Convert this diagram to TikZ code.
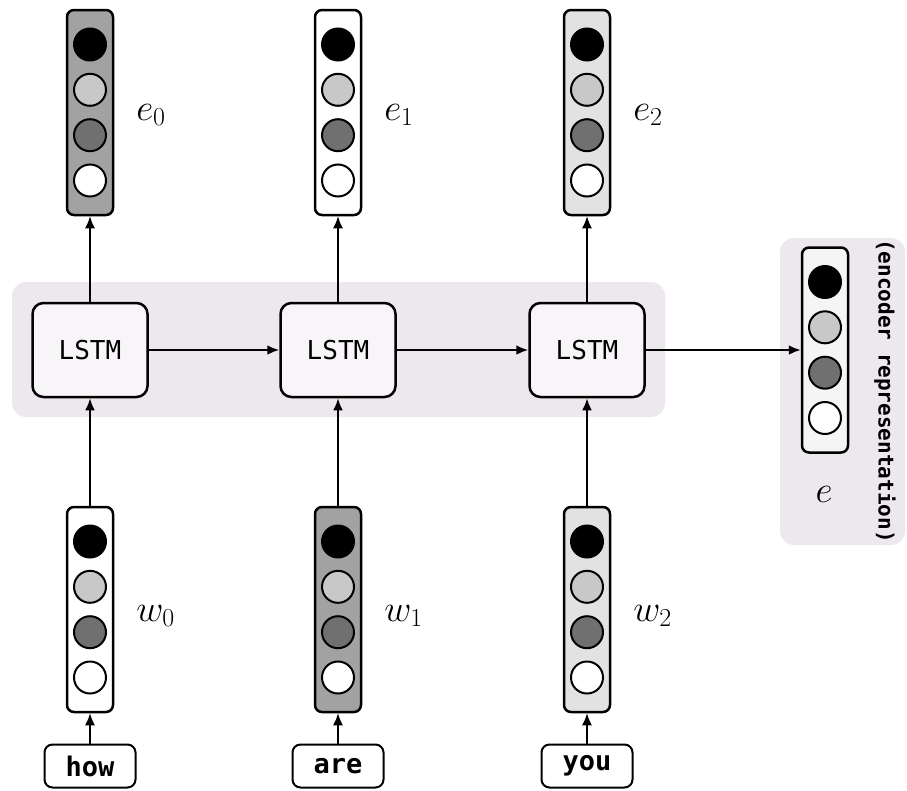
\documentclass[tikz,border=0pt]{standalone}
\usepackage{fontspec}
\setmonofont{DejaVu Sans Mono}
\usepackage{tikz}
\usetikzlibrary{arrows.meta}

\definecolor{bandgray}{RGB}{237,232,238}
\definecolor{cellgray}{RGB}{248,245,248}
\definecolor{midgray}{RGB}{162,162,162}
\definecolor{palegray}{RGB}{226,226,226}
\definecolor{dotlight}{RGB}{200,200,200}
\definecolor{dotdark}{RGB}{112,112,112}

\tikzset{
  band/.style={fill=bandgray, rounded corners=14},
  lstm/.style={draw, line width=2.5, fill=cellgray, rounded corners=11, minimum width=115, minimum height=94, font=\fontsize{26}{26}\selectfont\ttfamily},
  vecbox/.style={draw, line width=2.5, rounded corners=7, minimum width=46, minimum height=205},
  cell/.style={draw, circle, line width=2, minimum size=32, inner sep=0},
  word/.style={draw, line width=2, rounded corners=8, minimum width=91, minimum height=43, inner sep=0, font=\fontsize{27}{27}\selectfont\ttfamily\bfseries},
  lbl/.style={anchor=base west, inner sep=0, scale=1.5, font=\fontsize{24}{24}\selectfont},
  link/.style={-{Latex[length=12pt,width=10pt]}, line width=2.5},
  thin link/.style={-{Latex[length=12pt,width=10pt]}, line width=1.5}
}

\begin{document}
\begin{tikzpicture}[x=1pt, y=-1pt]

\useasboundingbox (0,0) rectangle (907,790);

% shaded panels

\node[band, minimum width=653, minimum height=135] (enccell) at (338.5,349.5) {};
\node[band, minimum width=125, minimum height=307] (encpanel) at (842.5,391.5) {};

% recurrent cells

\node[lstm] (lstm0) at (90,350) {LSTM};
\node[lstm] (lstm1) at (338,350) {LSTM};
\node[lstm] (lstm2) at (587,350) {LSTM};

% output vectors

\node[vecbox, fill=midgray] (e0) at (90,112.5) {};
\node[cell, fill=black] (e0a) at (90,44.5) {};
\node[cell, fill=dotlight] (e0b) at (90,89.8) {};
\node[cell, fill=dotdark] (e0c) at (90,135.2) {};
\node[cell, fill=white] (e0d) at (90,180.5) {};

\node[vecbox, fill=white] (e1) at (338,112.5) {};
\node[cell, fill=black] (e1a) at (338,44.5) {};
\node[cell, fill=dotlight] (e1b) at (338,89.8) {};
\node[cell, fill=dotdark] (e1c) at (338,135.2) {};
\node[cell, fill=white] (e1d) at (338,180.5) {};

\node[vecbox, fill=palegray] (e2) at (587,112.5) {};
\node[cell, fill=black] (e2a) at (587,44.5) {};
\node[cell, fill=dotlight] (e2b) at (587,89.8) {};
\node[cell, fill=dotdark] (e2c) at (587,135.2) {};
\node[cell, fill=white] (e2d) at (587,180.5) {};

% input vectors

\node[vecbox, fill=white] (w0) at (90,609.5) {};
\node[cell, fill=black] (w0a) at (90,541.5) {};
\node[cell, fill=dotlight] (w0b) at (90,586.8) {};
\node[cell, fill=dotdark] (w0c) at (90,632.2) {};
\node[cell, fill=white] (w0d) at (90,677.5) {};

\node[vecbox, fill=midgray] (w1) at (338,609.5) {};
\node[cell, fill=black] (w1a) at (338,541.5) {};
\node[cell, fill=dotlight] (w1b) at (338,586.8) {};
\node[cell, fill=dotdark] (w1c) at (338,632.2) {};
\node[cell, fill=white] (w1d) at (338,677.5) {};

\node[vecbox, fill=palegray] (w2) at (587,609.5) {};
\node[cell, fill=black] (w2a) at (587,541.5) {};
\node[cell, fill=dotlight] (w2b) at (587,586.8) {};
\node[cell, fill=dotdark] (w2c) at (587,632.2) {};
\node[cell, fill=white] (w2d) at (587,677.5) {};

% encoder vector

\node[vecbox, fill=white!96!black] (enc) at (825,350) {};
\node[cell, fill=black] (enca) at (825,282) {};
\node[cell, fill=dotlight] (encb) at (825,327.3) {};
\node[cell, fill=dotdark] (encc) at (825,372.7) {};
\node[cell, fill=white] (encd) at (825,418) {};

% words

\node[word] (how) at (90,766) {how};
\node[word] (are) at (338,766) {are};
\node[word] (you) at (587,766) {you};

% labels

\node[lbl] (le0) at (136,120) {$e_0$};
\node[lbl] (le1) at (384,120) {$e_1$};
\node[lbl] (le2) at (633,120) {$e_2$};
\node[lbl] (lw0) at (136,621) {$w_0$};
\node[lbl] (lw1) at (384,621) {$w_1$};
\node[lbl] (lw2) at (633,621) {$w_2$};
\node[lbl, anchor=base] (lenc) at (824,502) {$e$};
\node[rotate=-90, font=\fontsize{21}{21}\selectfont\ttfamily\bfseries] (encname) at (885,391) {(encoder representation)};

% words to vectors
\draw[thin link] (how) -- (w0);
\draw[thin link] (are) -- (w1);
\draw[thin link] (you) -- (w2);

% vectors to cells
\draw[link] (w0) -- (lstm0);
\draw[link] (w1) -- (lstm1);
\draw[link] (w2) -- (lstm2);

% cells to outputs
\draw[thin link] (lstm0) -- (e0);
\draw[thin link] (lstm1) -- (e1);
\draw[thin link] (lstm2) -- (e2);

% recurrence
\draw[link] (lstm0) -- (lstm1);
\draw[link] (lstm1) -- (lstm2);
\draw[link] (lstm2) -- (enc);

\end{tikzpicture}
\end{document}
